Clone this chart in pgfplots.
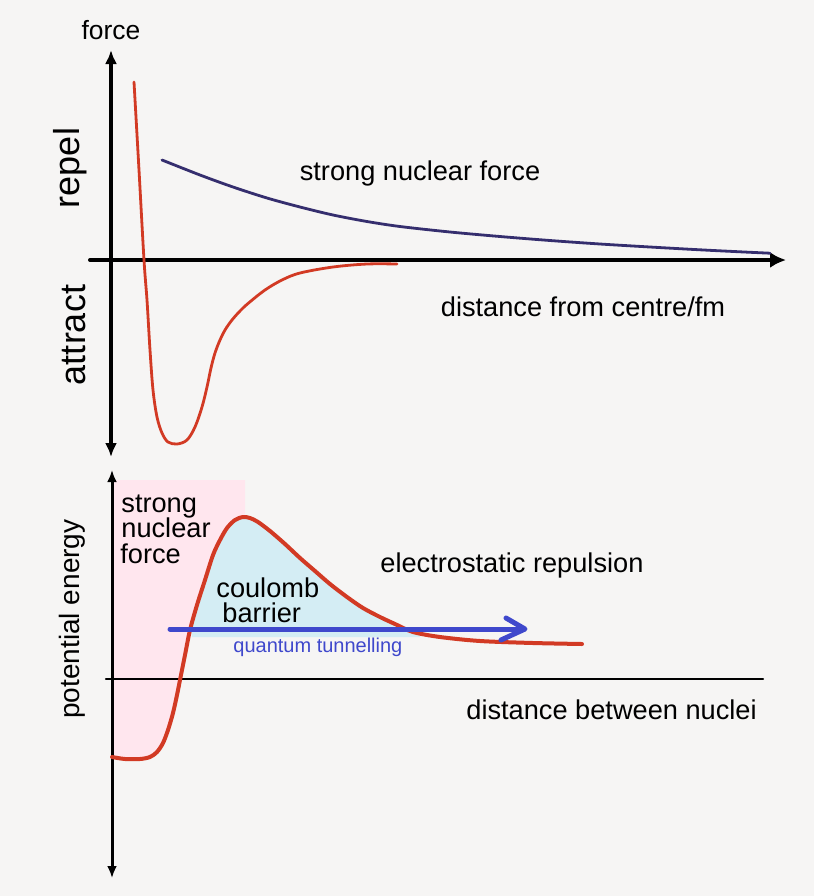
\documentclass[border=0pt]{standalone}
\usepackage{fontspec}
\setmainfont{Liberation Sans}
\usepackage{pgfplots}
\pgfplotsset{compat=1.18}
\usetikzlibrary{arrows.meta}

\definecolor{bg}{HTML}{F6F5F4}
\definecolor{curvered}{HTML}{D23A24}
\definecolor{navy}{HTML}{352E6E}
\definecolor{tunnel}{HTML}{3F48CC}
\definecolor{barrierfill}{HTML}{D4EDF4}
\definecolor{pinkfill}{HTML}{FFE6EE}

\begin{document}
\begin{tikzpicture}
\begin{axis}[
  width=407pt, height=448pt, scale only axis,
  xmin=0, xmax=814, ymin=0, ymax=896,
  y dir=reverse,
  enlargelimits=false,
  hide axis,
  clip=false,
  line cap=round, line join=round
]
% background
\addplot[fill=bg, draw=none] coordinates {(0,0) (814,0) (814,896) (0,896)} -- cycle;

%%% top panel: force
\addplot[black, line width=2pt, {Latex[length=7pt,width=6pt]}-{Latex[length=7pt,width=6pt]}]
  coordinates {(111,50) (111,457)};
\addplot[black, line width=2pt, -{Latex[length=8pt,width=8pt]}]
  coordinates {(90,260) (786,260)};
% strong nuclear force (repulsion curve)
\addplot[navy, line width=1.4pt, smooth] coordinates {
  (162,160) (200,175) (233,187) (267,198) (300,207) (333,215) (367,221.5)
  (400,226.5) (450,232) (500,236.5) (550,240.5) (600,244) (650,247)
  (700,249.8) (740,251.8) (770,253.2)};
% net nuclear force
\addplot[curvered, line width=1.4pt, smooth, tension=0.55] coordinates {
  (134,82) (139,170) (144,260) (147,300) (150,350) (153,390) (157,417)
  (162,433) (168,442) (177,444) (187,440) (195,427) (202,407) (207,387)
  (211,368) (215,353) (220,340) (225,330) (232,320) (240,311) (248,303.5)
  (265,290) (282,280) (300,273) (333,267) (367,264) (397,264)};

\node at (axis cs:111,30) {\fontsize{13.2}{15}\selectfont force};
\node[rotate=90] at (axis cs:70,168) {\fontsize{18}{20}\selectfont repel};
\node[rotate=90] at (axis cs:74,335) {\fontsize{18}{20}\selectfont attract};
\node at (axis cs:420,173) {\fontsize{13.6}{16}\selectfont strong nuclear force};
\node at (axis cs:583,307) {\fontsize{13.6}{16}\selectfont distance from centre/fm};

%%% bottom panel: potential energy
% strong nuclear force region
\addplot[fill=pinkfill, draw=none] coordinates {
  (112,480) (245,480) (245,517) (243,517) (235,520) (227,528) (220,540)
  (213,555) (205,580) (197,605) (190,630) (185,655) (180,680) (177,695)
  (173,713) (168,730) (163,743) (157,752) (150,757) (140,759) (125,759)
  (112,757)} -- cycle;
% coulomb barrier region
\addplot[fill=barrierfill, draw=none] coordinates {
  (191,628) (197,605) (205,580) (213,555) (220,540) (227,528) (235,520)
  (243,517) (250,518) (258,522) (270,531) (285,544) (300,558) (315,571)
  (330,584) (347,597) (363,608) (380,617) (395,624) (405,628) (420,629)
  (420,637) (192,637)} -- cycle;

\addplot[black, line width=1.5pt, {Latex[length=6pt,width=5pt]}-{Latex[length=6pt,width=5pt]}]
  coordinates {(112,470) (112,878)};
\addplot[black, line width=1.1pt] coordinates {(106,679) (763,679)};

% potential curve
\addplot[curvered, line width=2pt, smooth, tension=0.5] coordinates {
  (112,757) (125,759) (140,759) (150,757) (157,752) (163,743) (168,730)
  (173,713) (177,695) (180,680) (185,655) (190,630) (197,605) (205,580)
  (213,555) (220,540) (227,528) (235,520) (243,517) (250,518) (258,522)
  (270,531) (285,544) (300,558) (315,571) (330,584) (347,597) (363,608)
  (380,617) (395,624) (413,632) (440,637) (480,641) (533,643) (582,644)};

% quantum tunnelling arrow
\addplot[tunnel, line width=2.5pt] coordinates {(170,629) (522,629)};
\addplot[tunnel, line width=2.5pt] coordinates {(506,618) (525,629) (501,640)};

\begin{scope}[every node/.style={anchor=base west, inner sep=0pt}]
\node at (axis cs:121,512) {\fontsize{13.6}{16}\selectfont strong};
\node at (axis cs:121,537) {\fontsize{13.6}{16}\selectfont nuclear};
\node at (axis cs:120,563) {\fontsize{13.6}{16}\selectfont force};
\node at (axis cs:216,597) {\fontsize{13.6}{16}\selectfont coulomb};
\node at (axis cs:222,622) {\fontsize{13.6}{16}\selectfont barrier};
\node[text=tunnel] at (axis cs:233,652) {\fontsize{10}{12}\selectfont quantum tunnelling};
\node at (axis cs:380,572) {\fontsize{13.6}{16}\selectfont electrostatic repulsion};
\node at (axis cs:466,719) {\fontsize{13.6}{16}\selectfont distance between nuclei};
\end{scope}
\node[rotate=90] at (axis cs:72,619) {\fontsize{14}{16}\selectfont potential energy};
\end{axis}
\end{tikzpicture}
\end{document}
